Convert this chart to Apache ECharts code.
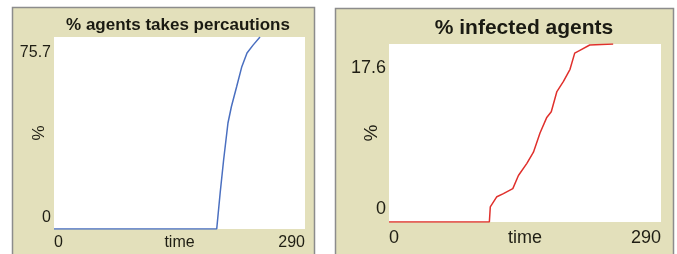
<!DOCTYPE html>
<html>
<head>
<meta charset="utf-8">
<script src="https://cdn.jsdelivr.net/npm/echarts@6/dist/echarts.min.js"></script>
<style>
  html, body { margin: 0; padding: 0; background: #fff; }
  #main { width: 677px; height: 254px; }
</style>
</head>
<body>
<div id="main"></div>
<script>
// left plot: % agents takes percautions
const timeA = [0, 188, 192, 196, 201, 205, 211, 217, 223, 230, 238];
const precautions = [0, 0, 14.3, 27.3, 41.8, 48.3, 56.1, 64.0, 69.4, 72.5, 75.7];
// right plot: % infected agents
const timeB = [0, 107, 108, 115, 122, 132, 138, 147, 154, 161, 168, 173, 179, 186, 193, 198, 204, 214, 239];
const infected = [0, 0, 1.5, 2.5, 2.8, 3.3, 4.6, 5.8, 6.9, 8.8, 10.3, 10.9, 12.9, 13.9, 15.1, 16.7, 17.0, 17.5, 17.6];
const titles = ["% agents takes percautions", "% infected agents"];
const xMax = 290;
const yMaxA = 75.7;
const yMaxB = 17.6;

const font = "Liberation Sans";
const ink = "#1f1e14";
const panel = "#e3e0bb";

let myChart = echarts.init(document.getElementById("main"));

function xAxisFor(idx, size, gap) {
  return {
    gridIndex: idx,
    type: "value",
    min: 0,
    max: xMax,
    interval: xMax,
    name: "time",
    nameLocation: "middle",
    nameGap: gap,
    nameMoveOverlap: false,
    nameTextStyle: { fontFamily: font, fontSize: size, color: ink, verticalAlign: "top" },
    axisLine: { show: false },
    axisTick: { show: false },
    splitLine: { show: false },
    axisLabel: {
      fontFamily: font,
      fontSize: size,
      color: ink,
      margin: gap,
      alignMinLabel: "left",
      alignMaxLabel: "right",
    },
  };
}

function yAxisFor(idx, max, size, topPad, botPad, gap) {
  return {
    gridIndex: idx,
    type: "value",
    min: 0,
    max: max,
    interval: max,
    name: "%",
    nameLocation: "middle",
    nameRotate: 90,
    nameGap: gap,
    nameMoveOverlap: false,
    nameTextStyle: { fontFamily: font, fontSize: size + 1, color: ink },
    axisLine: { show: false },
    axisTick: { show: false },
    splitLine: { show: false },
    axisLabel: {
      fontFamily: font,
      fontSize: size,
      color: ink,
      margin: 3,
      formatter: function (v) {
        return v === 0 ? "{b|0}" : "{t|" + max + "}";
      },
      rich: {
        t: { fontFamily: font, fontSize: size, color: ink, padding: [topPad * 2, 0, 0, 0] },
        b: { fontFamily: font, fontSize: size, color: ink, padding: [0, 0, botPad * 2, 0] },
      },
    },
  };
}

let option = {
  animation: false,
  backgroundColor: "#fff",
  graphic: [
    {
      type: "rect",
      shape: { x: 12.5, y: 7.5, width: 302, height: 260 },
      style: { fill: panel, stroke: "#8c8c8c", lineWidth: 1.5 },
      z: -10,
    },
    {
      type: "rect",
      shape: { x: 335.5, y: 8.5, width: 338, height: 260 },
      style: { fill: panel, stroke: "#8c8c8c", lineWidth: 1.5 },
      z: -10,
    },
    {
      type: "text",
      x: 178,
      y: 25,
      style: {
        text: titles[0],
        fontFamily: font,
        fontWeight: "bold",
        fontSize: 17,
        fill: "#1a1a12",
        textAlign: "center",
        textVerticalAlign: "middle",
      },
    },
    {
      type: "text",
      x: 524,
      y: 28,
      style: {
        text: titles[1],
        fontFamily: font,
        fontWeight: "bold",
        fontSize: 21,
        fill: "#1a1a12",
        textAlign: "center",
        textVerticalAlign: "middle",
      },
    },
  ],
  grid: [
    { left: 54, top: 37, width: 251, height: 192, show: true, backgroundColor: "#fff", borderWidth: 0, outerBoundsMode: "none", containLabel: false },
    { left: 389, top: 44, width: 272, height: 178, show: true, backgroundColor: "#fff", borderWidth: 0, outerBoundsMode: "none", containLabel: false },
  ],
  xAxis: [xAxisFor(0, 16, 6), xAxisFor(1, 18, 7)],
  yAxis: [yAxisFor(0, yMaxA, 16, 16, 11, 6), yAxisFor(1, yMaxB, 18, 24, 13, 8)],
  series: [
    {
      type: "line",
      xAxisIndex: 0,
      yAxisIndex: 0,
      showSymbol: false,
      data: timeA.map((t, i) => [t, precautions[i]]),
      lineStyle: { color: "#4a6fc0", width: 1.5 },
    },
    {
      type: "line",
      xAxisIndex: 1,
      yAxisIndex: 1,
      showSymbol: false,
      data: timeB.map((t, i) => [t, infected[i]]),
      lineStyle: { color: "#e0302c", width: 1.5 },
    },
  ],
};
myChart.setOption(option);
</script>
</body>
</html>
